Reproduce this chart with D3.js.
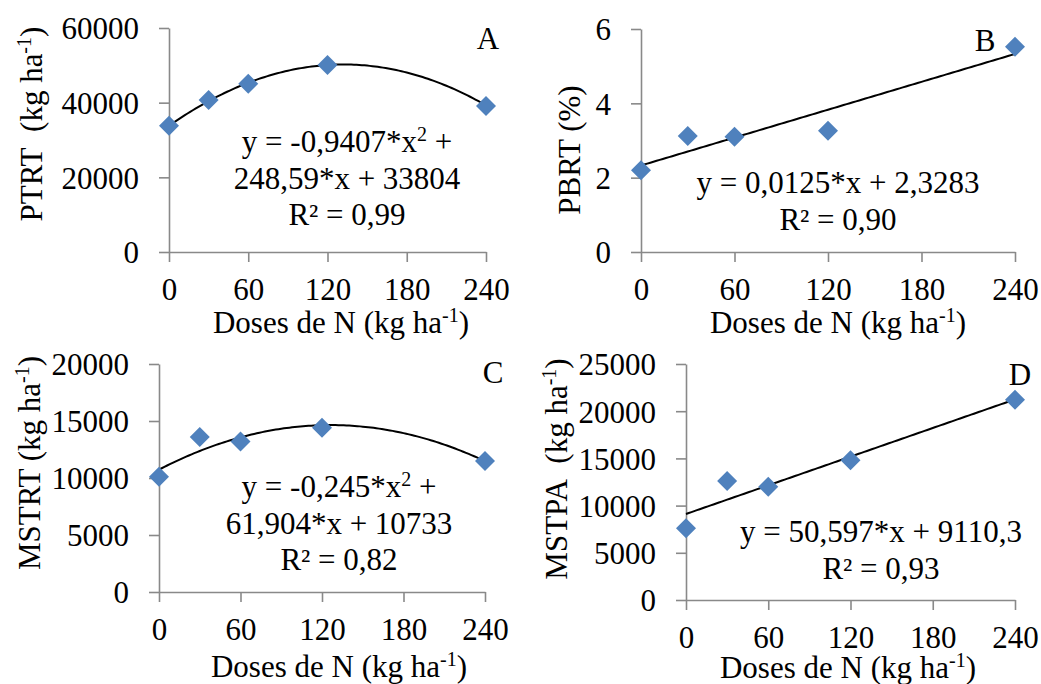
<!DOCTYPE html>
<html>
<head>
<meta charset="utf-8">
<script src="https://cdn.jsdelivr.net/npm/d3@7"></script>
<style>
  body { margin: 0; background: #fff; }
  svg { display: block; font-family: "Liberation Serif", "Times New Roman", serif; }
  .domain, .tick line { stroke: #898989; stroke-width: 1.6; }
  .tick text { font-size: 31px; fill: #000; font-family: "Liberation Serif", "Times New Roman", serif; }
  .lbl { font-size: 31px; fill: #000; }
</style>
</head>
<body>
<svg width="1041" height="684"></svg>
<script>
//  Data
const doses = [0, 30, 60, 120, 240];
const xTicks = [0, 60, 120, 180, 240];

const ptrt = [33800, 40700, 45100, 50100, 39100];
const pbrt = [2.2, 3.12, 3.1, 3.26, 5.52];
const mstrt = [10100, 13600, 13200, 14400, 11500];
const mstpa = [7600, 12600, 12000, 14800, 21200];

const ticksA = [0, 20000, 40000, 60000];
const ticksB = [0, 2, 4, 6];
const ticksC = [0, 5000, 10000, 15000, 20000];
const ticksD = [0, 5000, 10000, 15000, 20000, 25000];

//  fitted equations (coefficients printed on the chart)
const fitA = x => -0.9407 * x * x + 248.59 * x + 33804;
const fitB = x => 0.0125 * x + 2.3283;
const fitC = x => -0.245 * x * x + 61.904 * x + 10733;
const fitD = x => 50.597 * x + 9110.3;

const svg = d3.select('svg');

//  each panel: pixel box of plot area + texts
const panels = [
    { values: ptrt, ticks: ticksA, fit: fitA, letter: 'A', yTitle: 'PTRT\u00a0\u00a0(kg ha',
      x0: 169, x1: 486, yTop: 28, yBot: 252, titleX: 42, titleY: 124, letterX: 488, letterY: 49,
      eq: [['y = -0,9407*x', '2', ' +'], ['248,59*x + 33804'], ['R² = 0,99']], eqX: 347, eqY: 152,
      xlX: 341, xlY: 333 },
    { values: pbrt, ticks: ticksB, fit: fitB, letter: 'B', yTitle: 'PBRT (%)',
      x0: 641, x1: 1015, yTop: 29, yBot: 252, titleX: 580, titleY: 150, letterX: 985, letterY: 51,
      eq: [['y = 0,0125*x + 2,3283'], ['R² = 0,90']], eqX: 838, eqY: 193,
      xlX: 838, xlY: 333 },
    { values: mstrt, ticks: ticksC, fit: fitC, letter: 'C', yTitle: 'MSTRT (kg ha',
      x0: 159, x1: 485, yTop: 364, yBot: 592, titleX: 40, titleY: 463, letterX: 493, letterY: 383,
      eq: [['y = -0,245*x', '2', ' +'], ['61,904*x + 10733'], ['R² = 0,82']], eqX: 339, eqY: 497,
      xlX: 339, xlY: 677 },
    { values: mstpa, ticks: ticksD, fit: fitD, letter: 'D', yTitle: 'MSTPA\u00a0\u00a0(kg ha',
      x0: 686, x1: 1015, yTop: 364, yBot: 600, titleX: 567, titleY: 469, letterX: 1020, letterY: 385,
      eq: [['y = 50,597*x + 9110,3'], ['R² = 0,93']], eqX: 881, eqY: 542,
      xlX: 848, xlY: 678 }
];

panels.forEach(p => {
    const g = svg.append('g');

    const xScale = d3.scaleLinear().domain([0, 240]).range([p.x0, p.x1]);
    const yScale = d3.scaleLinear().domain([0, d3.max(p.ticks)]).range([p.yBot, p.yTop]);

    //  Y axis
    const yAxis = d3.axisLeft(yScale)
        .tickValues(p.ticks)
        .tickFormat(d => String(d))
        .tickSize(10)
        .tickSizeOuter(0)
        .tickPadding(20);
    g.append('g')
        .attr('transform', `translate(${p.x0},0)`)
        .call(yAxis)
        .attr('font-family', null)
        .call(a => a.selectAll('text').attr('dy', '0.35em'));

    //  X axis
    const xAxis = d3.axisBottom(xScale)
        .tickValues(xTicks)
        .tickFormat(d => String(d))
        .tickSize(10)
        .tickSizeOuter(0);
    g.append('g')
        .attr('transform', `translate(0,${p.yBot})`)
        .call(xAxis)
        .attr('font-family', null)
        .call(a => a.selectAll('text').attr('dy', 0).attr('y', 48));

    //  fitted curve
    const line = d3.line()
        .x(d => xScale(d))
        .y(d => yScale(p.fit(d)));
    g.append('path')
        .datum(d3.range(0, 241, 2))
        .attr('d', line)
        .attr('fill', 'none')
        .attr('stroke', '#000')
        .attr('stroke-width', 2);

    //  points
    g.selectAll('.pt')
        .data(doses)
        .enter()
        .append('path')
        .attr('class', 'pt')
        .attr('d', d3.symbol(d3.symbolSquare, 200))
        .attr('transform', (d, i) => `translate(${xScale(d)},${yScale(p.values[i])}) rotate(45)`)
        .attr('fill', '#4F81BD');

    //  y title
    const yt = g.append('text')
        .attr('class', 'lbl')
        .attr('text-anchor', 'middle')
        .attr('transform', `translate(${p.titleX},${p.titleY}) rotate(-90)`);
    yt.append('tspan').text(p.yTitle);
    if (p.yTitle.indexOf('ha') > -1) {
        yt.append('tspan').attr('font-size', 20).attr('dy', -11).text('-1');
        yt.append('tspan').attr('dy', 11).text(')');
    }

    //  x title
    const xt = g.append('text')
        .attr('class', 'lbl')
        .attr('text-anchor', 'middle')
        .attr('x', p.xlX)
        .attr('y', p.xlY);
    xt.append('tspan').text('Doses de N (kg ha');
    xt.append('tspan').attr('font-size', 20).attr('dy', -11).text('-1');
    xt.append('tspan').attr('dy', 11).text(')');

    //  panel letter
    g.append('text')
        .attr('class', 'lbl')
        .attr('text-anchor', 'middle')
        .attr('x', p.letterX)
        .attr('y', p.letterY)
        .text(p.letter);

    //  equation
    p.eq.forEach((parts, i) => {
        const t = g.append('text')
            .attr('class', 'lbl')
            .attr('text-anchor', 'middle')
            .attr('x', p.eqX)
            .attr('y', p.eqY + i * 36.5);
        t.append('tspan').text(parts[0]);
        if (parts.length > 1) {
            t.append('tspan').attr('font-size', 20).attr('dy', -11).text(parts[1]);
            t.append('tspan').attr('dy', 11).text(parts[2]);
        }
    });
});
</script>
</body>
</html>
